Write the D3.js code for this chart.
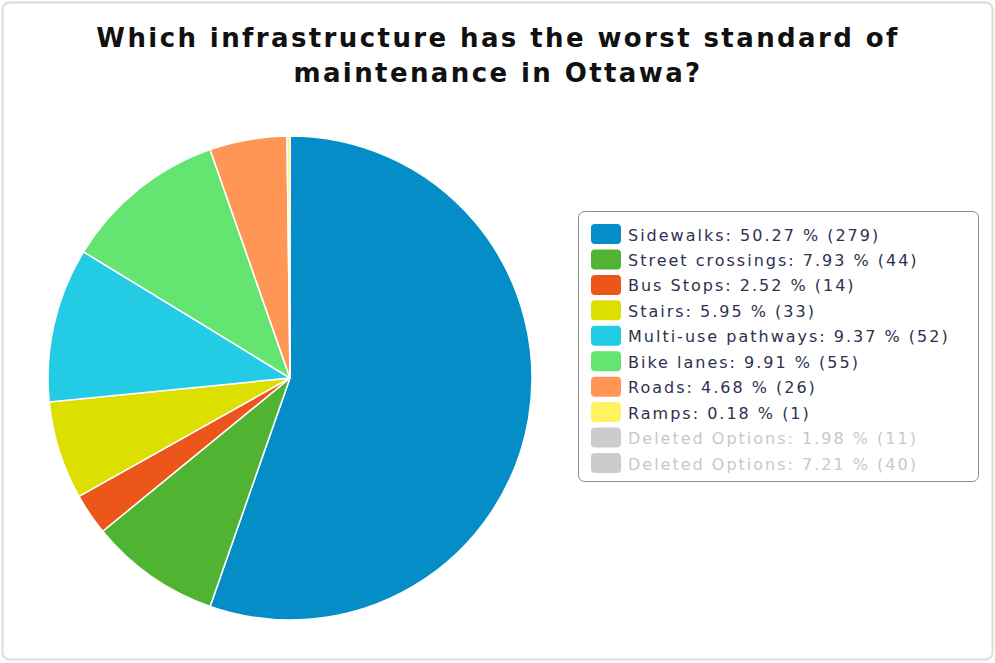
<!DOCTYPE html>
<html>
<head>
<meta charset="utf-8">
<script src="https://cdn.jsdelivr.net/npm/d3@7"></script>
<style>
  html, body { margin: 0; padding: 0; background: #fff; }
  svg { display: block; }
</style>
</head>
<body>
<svg id="chart" width="995" height="663"></svg>
<script>
// Survey answers
const categories = ["Sidewalks", "Street crossings", "Bus Stops", "Stairs",
  "Multi-use pathways", "Bike lanes", "Roads", "Ramps",
  "Deleted Options", "Deleted Options"];
const counts = [279, 44, 14, 33, 52, 55, 26, 1, 11, 40];
const percents = ["50.27", "7.93", "2.52", "5.95", "9.37", "9.91", "4.68", "0.18", "1.98", "7.21"];
const deleted = [false, false, false, false, false, false, false, false, true, true];
const colors = ["#058dc7", "#50b432", "#ed561b", "#dddf00", "#24cbe5",
  "#64e572", "#ff9655", "#fff263", "#cccccc", "#cccccc"];
const titleLines = ["Which infrastructure has the worst standard of", "maintenance in Ottawa?"];

const svg = d3.select("#chart");

// outer frame
svg.append("rect")
  .attr("x", 2.5).attr("y", 2.5).attr("width", 990).attr("height", 657)
  .attr("rx", 7).attr("fill", "#fff").attr("stroke", "#dcdcdc").attr("stroke-width", 2);

// title
svg.append("g").selectAll("text").data(titleLines).join("text")
  .attr("x", 498).attr("y", (d, i) => 47 + i * 35)
  .attr("text-anchor", "middle")
  .attr("font-family", "DejaVu Sans, Verdana, sans-serif")
  .attr("font-weight", "bold").attr("font-size", 26)
  .attr("letter-spacing", 2.4)
  .attr("fill", "#111")
  .text(d => d);

// pie of the active options (deleted options only appear in the legend)
const items = categories.map((c, i) => ({ name: c, count: counts[i], pct: percents[i], color: colors[i], deleted: deleted[i] }));
const active = items.filter(d => !d.deleted);

const cx = 290, cy = 378, radius = 242;
const pie = d3.pie().sort(null).value(d => d.count);
const arc = d3.arc().innerRadius(0).outerRadius(radius);

svg.append("g").attr("transform", `translate(${cx},${cy})`)
  .selectAll("path").data(pie(active)).join("path")
  .attr("d", arc)
  .attr("fill", d => d.data.color)
  .attr("stroke", "#fff").attr("stroke-width", 1.5).attr("stroke-linejoin", "round");

// legend
const legX = 578.5, legY = 211.5, legW = 400, legH = 270;
const legend = svg.append("g");
legend.append("rect")
  .attr("x", legX).attr("y", legY).attr("width", legW).attr("height", legH)
  .attr("rx", 6).attr("fill", "#fff").attr("stroke", "#8c8c8c").attr("stroke-width", 1);

const rowY = d3.scaleLinear().domain([0, items.length - 1]).range([234, 463]);
const rows = legend.selectAll("g.row").data(items).join("g").attr("class", "row")
  .attr("transform", (d, i) => `translate(0,${rowY(i)})`);
rows.append("rect")
  .attr("x", 591).attr("y", -10).attr("width", 30).attr("height", 20).attr("rx", 4)
  .attr("fill", d => d.color);
rows.append("text")
  .attr("x", 628).attr("y", 6.5)
  .attr("font-family", "DejaVu Sans, Verdana, sans-serif")
  .attr("font-size", 16).attr("letter-spacing", 2)
  .attr("fill", d => d.deleted ? "#c8c8c8" : "#2e3150")
  .text(d => `${d.name}: ${d.pct} % (${d.count})`);
</script>
</body>
</html>
